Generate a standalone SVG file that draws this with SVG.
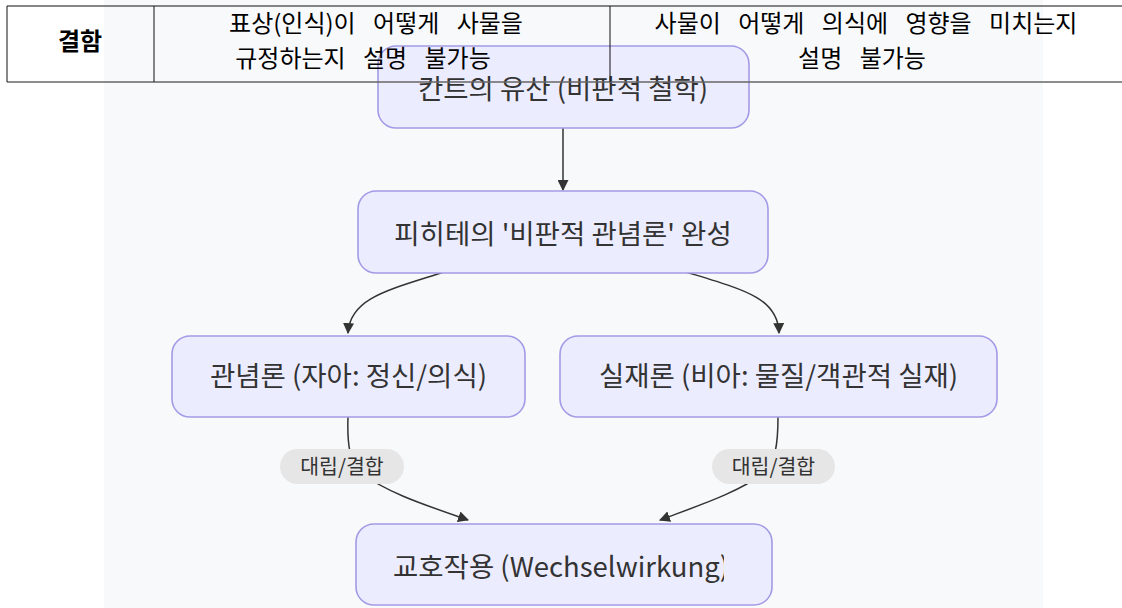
<svg xmlns="http://www.w3.org/2000/svg" width="1122" height="608" viewBox="0 0 1122 608">
<style>
.node rect{fill:#ececff;stroke:#a29be6;stroke-width:1.6}
.node text{font-family:"Noto Sans CJK KR","Noto Sans",sans-serif;font-size:27.5px;font-weight:normal;fill:#333;text-anchor:middle}
.edge{fill:none;stroke:#333;stroke-width:1.5}
.pill rect{fill:#e6e6e6}
.pill text{font-family:"Noto Sans CJK KR","Noto Sans",sans-serif;font-size:20.5px;font-weight:normal;fill:#333;text-anchor:middle}
.tbl{font-family:"Noto Sans CJK KR","Liberation Sans",sans-serif;font-size:24px;fill:#000;text-anchor:middle;word-spacing:12px}
</style>
<defs>
<marker id="arr" viewBox="0 0 10 10" refX="9" refY="5" markerWidth="11" markerHeight="11" markerUnits="userSpaceOnUse" orient="auto">
<path d="M0,0 L10,5 L0,10 z" fill="#333"/>
</marker>
<clipPath id="clipE"><rect x="360" y="524" width="364" height="82"/></clipPath>
</defs>
<rect x="0" y="0" width="1122" height="608" fill="#ffffff"/>
<rect x="104" y="0" width="939" height="608" fill="#f8f9fb"/>

<g id="connectors">
<path class="edge" d="M563,128 L563,190" marker-end="url(#arr)"/>
<path class="edge" d="M444,272 C388,290 350,298 348,333" marker-end="url(#arr)"/>
<path class="edge" d="M686,272 C745,290 778,298 779,333" marker-end="url(#arr)"/>
<path class="edge" d="M348,417 C347,445 350,462 360,472 C385,492 425,505 468,520" marker-end="url(#arr)"/>
<path class="edge" d="M778,417 C778,445 775,462 765,472 C740,492 700,505 660,520" marker-end="url(#arr)"/>
</g>

<g id="label-left" class="pill">
<rect x="280" y="449" width="124" height="35" rx="17.5"/>
<text x="342" y="473.5">대립/결합</text>
</g>
<g id="label-right" class="pill">
<rect x="712" y="449" width="123" height="35" rx="17.5"/>
<text x="773.5" y="473.5">대립/결합</text>
</g>

<g id="node-kant" class="node">
<rect x="378" y="46" width="371" height="82" rx="18"/>
<text x="563" y="99">칸트의 유산 (비판적 철학)</text>
</g>
<g id="node-fichte" class="node">
<rect x="358" y="191" width="410" height="82" rx="18"/>
<text x="563" y="244">피히테의 '비판적 관념론' 완성</text>
</g>
<g id="node-idealism" class="node">
<rect x="172" y="336" width="353" height="81" rx="18"/>
<text x="348.5" y="386">관념론 (자아: 정신/의식)</text>
</g>
<g id="node-realism" class="node">
<rect x="560" y="336" width="437" height="81" rx="18"/>
<text x="778.5" y="386">실재론 (비아: 물질/객관적 실재)</text>
</g>
<g id="node-wechsel" class="node">
<rect x="356" y="524" width="416" height="81" rx="18"/>
<text x="393" y="577" clip-path="url(#clipE)" style="text-anchor:start">교호작용 (Wechselwirkung)</text>
</g>

<g id="table">
<line x1="7" y1="6" x2="1122" y2="6" stroke="#111" stroke-width="1.2"/>
<line x1="7" y1="82" x2="1122" y2="82" stroke="#666" stroke-width="1.6"/>
<line x1="7" y1="6" x2="7" y2="82" stroke="#111" stroke-width="1"/>
<line x1="154" y1="6" x2="154" y2="82" stroke="#111" stroke-width="1"/>
<line x1="610" y1="6" x2="610" y2="82" stroke="#111" stroke-width="1"/>
<text x="80" y="50" style="font-family:'Noto Sans CJK KR','Liberation Sans',sans-serif;font-size:24px;font-weight:bold;fill:#000;text-anchor:middle">결함</text>
<text class="tbl" x="376" y="32">표상(인식)이 어떻게 사물을</text>
<text class="tbl" x="363" y="67">규정하는지 설명 불가능</text>
<text class="tbl" x="866" y="32">사물이 어떻게 의식에 영향을 미치는지</text>
<text class="tbl" x="862" y="67">설명 불가능</text>
</g>
</svg>
